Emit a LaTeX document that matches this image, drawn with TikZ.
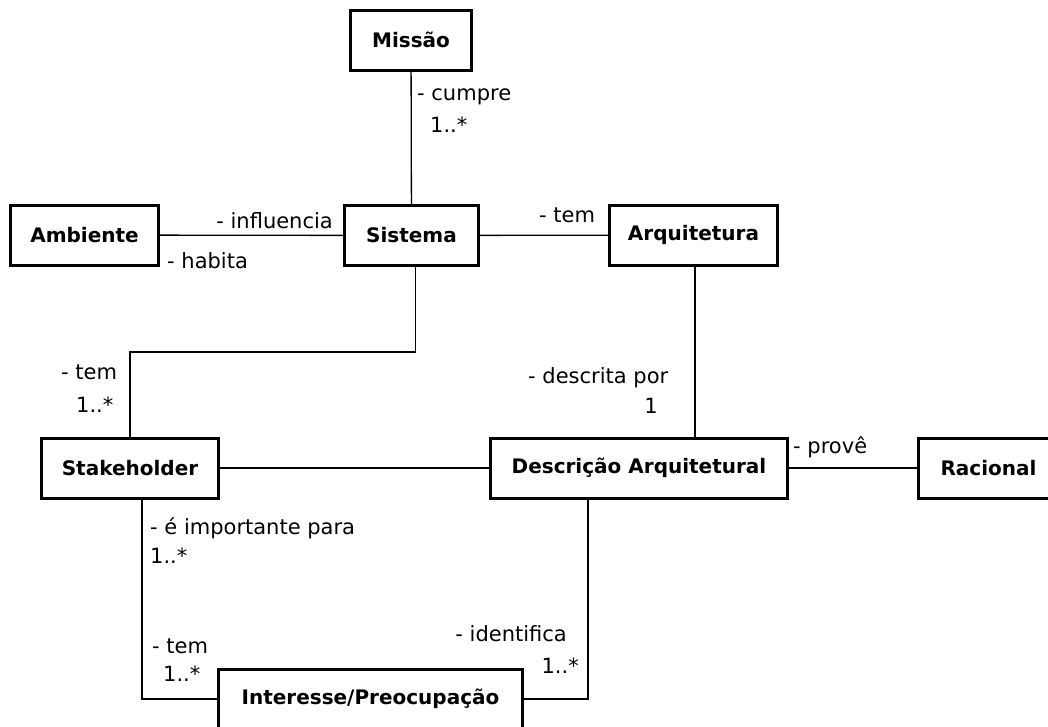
\documentclass[tikz,border=0pt]{standalone}
\usepackage{fontspec}
\setmainfont{DejaVu Sans}
\usetikzlibrary{positioning}
\tikzset{
cls/.style={draw=black, line width=3pt, minimum height=60pt, inner sep=0pt,
    font=\fontsize{20}{24}\selectfont\bfseries},
lbl/.style={inner sep=0pt, font=\fontsize{21}{24}\selectfont},
assoc/.style={draw=black, line width=1.3pt}
}
\begin{document}
\begin{tikzpicture}[x=1pt,y=-1pt]
\clip (0,0) rectangle (1048,726);
\fill[white] (0,0) rectangle (1048,726);

\node[cls, minimum width=121pt] (missao) at (411,40) {Missão};
\node[cls, minimum width=134pt] (sistema) at (411.5,235.5) {Sistema};
\node[cls, minimum width=148pt] (ambiente) at (84.5,235) {Ambiente};
\node[cls, minimum width=168pt] (arquitetura) at (693.5,235) {Arquitetura};
\node[cls, minimum width=177pt] (stakeholder) at (130,468) {Stakeholder};
\node[cls, minimum width=297pt] (descricao) at (639,468) {Descrição Arquitetural};
\node[cls, minimum width=140pt] (racional) at (988.5,468) {Racional};
\node[cls, minimum width=304pt] (interesse) at (370.5,699) {Interesse/Preocupação};

\draw[assoc] (missao) -- (sistema);
\draw[assoc] (ambiente) -- (sistema);
\draw[assoc] (sistema) -- (arquitetura);
\draw[assoc] ([xshift=4pt]sistema.south) -- ++(0,85) -| (stakeholder.north);
\draw[assoc] (stakeholder) -- (descricao);
\draw[assoc] ([xshift=1.5pt]arquitetura.south) -- ([xshift=1.5pt]arquitetura.south |- descricao.north);
\draw[assoc] (descricao) -- (racional);
\draw[assoc] ([xshift=12pt]stakeholder.south) |- (interesse.west);
\draw[assoc] ([xshift=-51pt]descricao.south) |- (interesse.east);

\node[lbl, anchor=base west] (l1) at (417,100) {- cumpre};
\node[lbl, anchor=base west] (m1) at (430,132) {1..*};
\node[lbl, anchor=base east] (l2) at (333,228) {- influencia};
\node[lbl, anchor=base west] (l3) at (167,268) {- habita};
\node[lbl, anchor=base west] (l4) at (539,222) {- tem};
\node[lbl, anchor=base west] (l5) at (61,379) {- tem};
\node[lbl, anchor=base west] (m5) at (76,412) {1..*};
\node[lbl, anchor=base west] (l6) at (150,534) {- é importante para};
\node[lbl, anchor=base west] (m6) at (150,563) {1..*};
\node[lbl, anchor=base west] (l7) at (152,653) {- tem};
\node[lbl, anchor=base west] (m7) at (163,681) {1..*};
\node[lbl, anchor=base east] (l8) at (567,641) {- identifica};
\node[lbl, anchor=base east] (m8) at (579,673) {1..*};
\node[lbl, anchor=base west] (l9) at (528,383) {- descrita por};
\node[lbl, anchor=base east] (m9) at (658,413) {1};
\node[lbl, anchor=base west] (l10) at (793,453) {- provê};
\end{tikzpicture}
\end{document}
